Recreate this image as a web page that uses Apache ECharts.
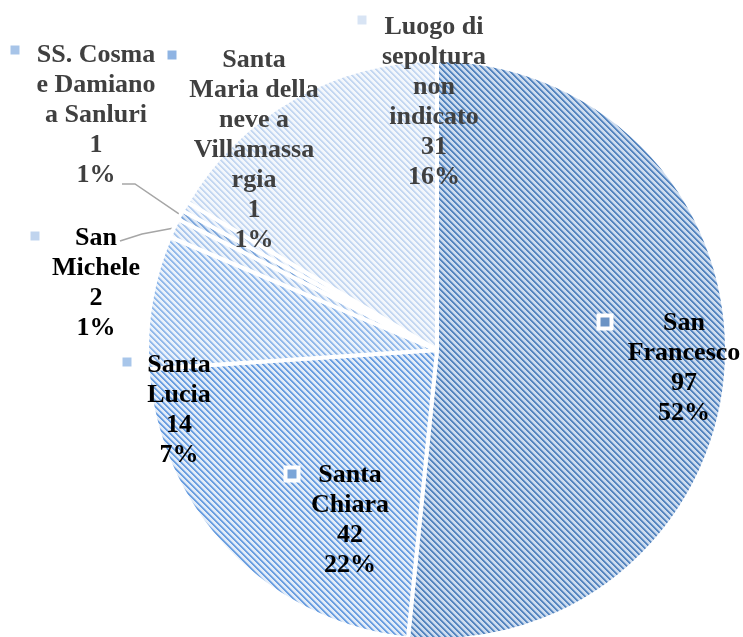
<!DOCTYPE html>
<html>
<head>
<meta charset="utf-8">
<script src="https://cdn.jsdelivr.net/npm/echarts@6/dist/echarts.min.js"></script>
<style>
  html, body { margin: 0; padding: 0; background: #fff; }
  #chart { width: 743px; height: 637px; }
</style>
</head>
<body>
<div id="chart"></div>
<script>
// Burial places and number of records for each
const categories = [
  'San Francesco',
  'Santa Chiara',
  'Santa Lucia',
  'San Michele',
  'SS. Cosma e Damiano a Sanluri',
  'Santa Maria della neve a Villamassargia',
  'Luogo di sepoltura non indicato'
];
const counts = [97, 42, 14, 2, 1, 1, 31];

// Names as they wrap inside the data labels
const wrappedNames = [
  'San\nFrancesco',
  'Santa\nChiara',
  'Santa\nLucia',
  'San\nMichele',
  'SS. Cosma\ne Damiano\na Sanluri',
  'Santa\nMaria della\nneve a\nVillamassa\nrgia',
  'Luogo di\nsepoltura\nnon\nindicato'
];

// Hatch colours per slice: background, stripe, stripe edge
const hatchBg     = ['#cddcef', '#e2ecf8', '#eaf2fb', '#eef4fb', '#dbe7f6', '#f0f5fc', '#f3f7fc'];
const hatchStripe = ['#5585bf', '#6a9ee0', '#92b9ea', '#a9c6ec', '#7fa8dc', '#b4cdef', '#c4d7f1'];
const hatchMid    = ['#8fb0d8', '#a7c6ee', '#bcd4f2', '#cadcf3', '#adc8ea', '#d2e2f6', '#dce8f7'];
const textColors  = ['#000', '#000', '#000', '#000', '#404040', '#404040', '#404040'];
const keyColors   = ['#6b93c4', '#7ba5d8', '#a8c6ea', '#c0d4ee', '#a7c4e8', '#8fb4e3', '#d8e4f4'];
const keyFramed   = [true, true, false, false, false, false, false];

// Label block centres and legend key centres (pixels)
const labelPos = [[684, 368], [350, 520], [179, 410], [96, 283], [96, 115], [254, 150], [434, 102]];
const keyPos   = [[605, 322], [292, 474], [127, 362], [35, 236], [15, 50], [172, 55], [362, 20]];
// Leader line end points for the thin slices that carry one
const leaderEnds = { 3: [[142, 234], [120, 241]], 4: [[135, 184], [122, 184]] };

function hatch(bg, fg, mid) {
  const s = 6;
  const c = document.createElement('canvas');
  c.width = c.height = s;
  const ctx = c.getContext('2d');
  ctx.fillStyle = bg;
  ctx.fillRect(0, 0, s, s);
  for (let y = 0; y < s; y++) {
    for (let x = 0; x < s; x++) {
      const k = ((x - y) % s + s) % s;
      if (k < 2) { ctx.fillStyle = fg; ctx.fillRect(x, y, 1, 1); }
      else if (k === 2) { ctx.fillStyle = mid; ctx.fillRect(x, y, 1, 1); }
    }
  }
  return { image: c, repeat: 'repeat' };
}

const chart = echarts.init(document.getElementById('chart'), null, { renderer: 'canvas' });

const center = [437, 350];
const radius = 290;

const mainData = categories.map((name, i) => ({
  name,
  value: counts[i],
  itemStyle: { color: hatch(hatchBg[i], hatchStripe[i], hatchMid[i]) },
  label: { color: textColors[i] },
  labelLine: { show: leaderEnds[i] != null }
}));

const keyData = categories.map((name, i) => ({
  name,
  value: counts[i],
  label: {
    rich: {
      k: keyFramed[i]
        ? { width: 9, height: 9, backgroundColor: keyColors[i], borderColor: '#fff', borderWidth: 4 }
        : { width: 9, height: 9, backgroundColor: keyColors[i] }
    }
  }
}));

chart.setOption({
  animation: false,
  backgroundColor: '#fff',
  series: [
    {
      type: 'pie',
      center,
      radius,
      startAngle: 90,
      clockwise: true,
      avoidLabelOverlap: false,
      percentPrecision: 0,
      itemStyle: { borderColor: '#fff', borderWidth: 4 },
      label: {
        show: true,
        position: 'outside',
        formatter: p => wrappedNames[p.dataIndex] + '\n' + p.value + '\n' + p.percent + '%',
        fontFamily: 'Liberation Serif',
        fontWeight: 'bold',
        fontSize: 26,
        lineHeight: 30,
        align: 'center'
      },
      labelLine: { show: false, lineStyle: { color: '#a6a6a6', width: 1.5 } },
      labelLayout: p => {
        const i = p.dataIndex;
        const out = { x: labelPos[i][0], y: labelPos[i][1], align: 'center', verticalAlign: 'middle' };
        if (leaderEnds[i] && p.labelLinePoints) {
          out.labelLinePoints = [p.labelLinePoints[0], leaderEnds[i][0], leaderEnds[i][1]];
        }
        return out;
      },
      emphasis: { disabled: true },
      data: mainData
    },
    {
      // legend keys drawn beside each data label
      type: 'pie',
      center,
      radius,
      startAngle: 90,
      clockwise: true,
      silent: true,
      avoidLabelOverlap: false,
      itemStyle: { color: 'rgba(0,0,0,0)', borderWidth: 0 },
      label: { show: true, position: 'outside', formatter: '{k|}' },
      labelLine: { show: false },
      labelLayout: p => ({ x: keyPos[p.dataIndex][0], y: keyPos[p.dataIndex][1], align: 'center', verticalAlign: 'middle' }),
      emphasis: { disabled: true },
      data: keyData
    }
  ]
});
</script>
</body>
</html>
